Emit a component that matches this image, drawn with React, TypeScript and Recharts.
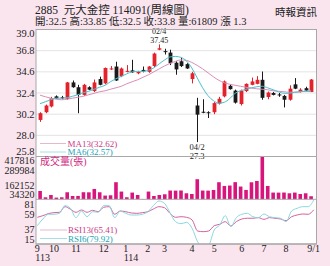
import React from "react";
import { ComposedChart, Bar, Line, XAxis, YAxis, CartesianGrid, ReferenceDot } from "recharts";

// weekly candles, week start dates (Sep 2024 - Sep 2025, LNY week closed)
const weeks = [
  "09/09", "09/16", "09/23", "09/30", "10/07", "10/14", "10/21", "10/28", "11/04", "11/11",
  "11/18", "11/25", "12/02", "12/09", "12/16", "12/23", "12/30", "01/06", "01/13", "01/20",
  "02/03", "02/10", "02/17", "02/24", "03/03", "03/10", "03/17", "03/24", "03/31", "04/07",
  "04/14", "04/21", "04/28", "05/05", "05/12", "05/19", "05/26", "06/02", "06/09", "06/16",
  "06/23", "06/30", "07/07", "07/14", "07/21", "07/28", "08/04", "08/11", "08/18", "08/25",
  "09/01",
];

const opens = [
  29.6, 30.4, 31.0, 32.05, 31.95, 31.8, 33.5, 33.0, 32.2, 33.0,
  32.6, 33.85, 33.4, 34.85, 35.15, 34.15, 34.65, 34.75, 34.45, 34.8,
  34.6, 35.2, 36.9, 36.75, 36.6, 35.55, 35.7, 35.4, 33.85, 31.1,
  30.45, 30.4, 30.4, 31.3, 32.05, 33.15, 32.65, 31.25, 32.6, 33.25,
  33.35, 33.77, 31.98, 32.4, 32.25, 32.1, 31.7, 33.3, 32.5, 32.9,
  32.5,
];
const highs = [
  30.4, 31.2, 32.0, 32.15, 32.1, 33.55, 33.7, 33.25, 33.35, 33.1,
  33.8, 34.1, 35.05, 35.2, 35.65, 35.05, 35.3, 35.85, 34.7, 35.15,
  35.2, 36.6, 37.45, 37.0, 36.9, 35.7, 36.05, 35.5, 34.6, 31.9,
  31.75, 30.5, 31.45, 32.0, 33.7, 33.3, 32.75, 32.75, 33.4, 34.0,
  34.15, 34.63, 32.55, 32.5, 32.4, 32.2, 33.2, 33.95, 32.9, 33.05,
  33.85,
];
const lows = [
  29.4, 30.3, 30.9, 31.8, 31.75, 31.7, 32.95, 30.3, 32.1, 32.7,
  32.5, 33.2, 33.3, 34.8, 33.65, 34.05, 34.55, 34.5, 34.35, 34.55,
  34.5, 35.1, 36.85, 36.4, 35.3, 34.3, 35.1, 34.9, 33.4, 27.3,
  30.3, 29.8, 30.2, 31.2, 31.95, 32.75, 31.3, 31.1, 32.5, 33.2,
  33.3, 31.7, 31.75, 32.15, 32.0, 30.9, 31.6, 32.8, 32.45, 32.6,
  32.5,
];
const closes = [
  30.3, 31.1, 31.85, 31.85, 31.9, 33.5, 33.0, 32.2, 33.25, 32.75,
  33.5, 33.25, 35.0, 34.95, 33.7, 34.95, 34.7, 34.55, 34.6, 34.65,
  35.15, 36.5, 37.05, 36.7, 35.5, 34.85, 35.2, 34.95, 34.45, 30.15,
  30.4, 30.35, 31.35, 31.8, 33.6, 32.8, 31.4, 32.65, 33.35, 33.6,
  33.77, 31.9, 32.45, 32.2, 32.2, 31.7, 32.85, 32.85, 32.75, 32.65,
  33.8,
];
const volumes = [
  109000, 52300, 73000, 49600, 52300, 97300, 64000, 64500, 97800, 96900,
  127000, 97300, 67600, 70300, 187400, 103600, 52300, 94600, 73000, 37000,
  103600, 64000, 73000, 79300, 112600, 112000, 113200, 88300, 82000, 214400,
  112600, 111900, 118000, 187400, 154000, 157600, 187900, 148600, 118000, 186800,
  199000, 417816, 154000, 94600, 94200, 95000, 88300, 94600, 82000, 88300,
  61809,
];
const ma13 = [
  32.17, 32.01, 31.86, 31.75, 31.70, 31.75, 31.86, 31.96, 32.06, 32.22,
  32.37, 32.53, 32.63, 32.79, 32.94, 33.10, 33.36, 33.57, 33.77, 34.03,
  34.29, 34.60, 34.91, 35.22, 35.48, 35.69, 35.84, 35.79, 35.58, 35.27,
  34.91, 34.50, 34.08, 33.72, 33.46, 33.31, 33.20, 33.10, 33.00, 32.91,
  32.84, 32.79, 32.74, 32.63, 32.58, 32.53, 32.48, 32.48, 32.53, 32.58,
  32.62,
];
const ma6 = [
  31.29, 31.49, 31.70, 31.86, 31.86, 31.91, 32.06, 32.22, 32.43, 32.58,
  32.79, 33.00, 33.20, 33.57, 33.88, 34.13, 34.39, 34.60, 34.65, 34.65,
  34.76, 35.01, 35.43, 35.84, 36.15, 36.20, 36.10, 35.74, 35.01, 33.98,
  32.94, 32.12, 31.60, 31.34, 31.44, 31.81, 32.37, 32.63, 32.79, 32.94,
  33.05, 33.10, 32.94, 32.74, 32.53, 32.37, 32.37, 32.48, 32.53, 32.58,
  32.57,
];
const rsi13 = [
  54.4, 56.8, 59.8, 61.3, 61.8, 70.1, 66.3, 61.8, 65.2, 61.8,
  64.7, 62.7, 69.2, 70.1, 58.9, 63.7, 62.7, 60.8, 60.3, 61.3,
  62.7, 66.7, 70.1, 68.6, 60.3, 54.4, 55.3, 54.4, 50.5, 34.2,
  33.2, 34.2, 42.0, 44.1, 48.0, 41.6, 48.0, 51.9, 53.0, 53.0,
  53.9, 51.4, 53.9, 53.0, 51.9, 49.4, 55.3, 57.8, 59.3, 58.9,
  65.41,
];
const rsi6 = [
  42.0, 51.9, 58.9, 58.9, 60.3, 71.6, 67.7, 53.9, 63.7, 55.3,
  62.7, 61.8, 71.6, 71.6, 53.9, 63.7, 60.3, 57.8, 57.8, 58.9,
  62.7, 71.6, 78.5, 75.1, 61.3, 48.0, 45.0, 47.0, 38.2, 18.4,
  11.0, 13.5, 35.7, 43.0, 56.8, 40.6, 53.9, 58.9, 60.3, 55.3,
  53.9, 59.3, 55.3, 53.9, 53.0, 48.0, 63.7, 67.7, 70.1, 70.1,
  79.92,
];

const priceTicks = [25.8, 28.0, 30.2, 32.4, 34.6, 36.8, 39.0];
const volTicks = [34320, 162152, 289984, 417816];
const rsiTicks = [15, 37, 59, 81];
const monthTicks = ["09/09", "09/30", "10/28", "12/02", "12/30", "02/03", "02/24", "03/31", "04/28", "06/02", "06/30", "07/28", "09/01"];
const monthLabels = ["9", "10", "11", "12", "1", "2", "3", "4", "5", "6", "7", "8", "9/1"];
const yearLabels = ["113", "", "", "", "114", "", "", "", "", "", "", "", ""];

const HIGH_WEEK = "02/17";
const LOW_WEEK = "04/07";

const SERIF = "'Liberation Serif', 'Noto Sans CJK TC', serif";
const RED = "#e4222b";
const BLACK = "#1a1a1a";
const MA13_C = "#da8db8";
const MA6_C = "#4dc0cb";
const VOL_C = "#d8147d";
const RSI13_C = "#d4619c";
const RSI6_C = "#8ad6e0";

const W = 330;
const H = 266;
const PLOT_L = 36;
const PLOT_R = 316.5;
const P_TOP = 29.5;
const P_BOT = 156.5;
const V_BOT = 199.3;
const R_BOT = 244;

const rows = weeks.map((wk, i) => ({
  wk,
  o: opens[i],
  h: highs[i],
  l: lows[i],
  c: closes[i],
  hl: [lows[i], highs[i]],
  vol: volumes[i],
  ma13: ma13[i],
  ma6: ma6[i],
  rsi13: rsi13[i],
  rsi6: rsi6[i],
}));

function Candle(props: any) {
  const { x, y, width, height, payload } = props;
  if (x == null || y == null || !payload) return null;
  const top = height < 0 ? y + height : y;
  const hh = Math.abs(height);
  const { o, h, l, c } = payload;
  const color = c > o ? RED : BLACK;
  const k = h - l > 0 ? hh / (h - l) : 0;
  const bodyTop = top + (h - Math.max(o, c)) * k;
  const bodyH = Math.max(Math.abs(o - c) * k, 1);
  const cx = Math.round(x + width / 2) + 0.5;
  return (
    <g>
      <line x1={cx} x2={cx} y1={top} y2={top + hh} stroke={color} strokeWidth={1} />
      <rect x={cx - width / 2} y={bodyTop} width={width} height={bodyH} fill={color} />
    </g>
  );
}

const yTick = (top: number, bottom: number, fmt: (v: number) => string, size = 10.5, padT = 4, padB = 5.5) => (props: any) => {
  const { y, payload } = props;
  const yy = Math.min(Math.max(y, top + padT), bottom - padB);
  return (
    <text x={34.5} y={yy} textAnchor="end" dominantBaseline="central" fontSize={size} fontFamily={SERIF} fill="#222">
      {fmt(payload.value)}
    </text>
  );
};

function MonthTick(props: any) {
  const { x, payload } = props;
  const i = monthTicks.indexOf(payload.value);
  if (i < 0) return null;
  return (
    <g fontFamily={SERIF} fontSize={10} fill="#222">
      <text x={x} y={248} textAnchor="middle" dominantBaseline="central">{monthLabels[i]}</text>
      {yearLabels[i] ? (
        <text x={x - 2} y={257.8} textAnchor="start" dominantBaseline="central">{yearLabels[i]}</text>
      ) : null}
    </g>
  );
}

function HighLabel(props: any) {
  const vb = props.viewBox || {};
  const cx = vb.x + (vb.width || 0) / 2;
  const cy = vb.y + (vb.height || 0) / 2;
  return (
    <g fontFamily={SERIF} fontSize={8} fill="#222" textAnchor="middle">
      <text x={cx} y={cy - 12.5} dominantBaseline="central">02/4</text>
      <text x={cx} y={cy - 3.7} dominantBaseline="central">{highs[weeks.indexOf(HIGH_WEEK)]}</text>
    </g>
  );
}

function LowLabel(props: any) {
  const vb = props.viewBox || {};
  const cx = vb.x + (vb.width || 0) / 2;
  const cy = vb.y + (vb.height || 0) / 2;
  return (
    <g fontFamily={SERIF} fontSize={8.5} fill="#222" textAnchor="middle">
      <text x={cx} y={cy + 4.5} dominantBaseline="central">04/2</text>
      <text x={cx} y={cy + 13.5} dominantBaseline="central">{lows[weeks.indexOf(LOW_WEEK)]}</text>
    </g>
  );
}

const layer: React.CSSProperties = { position: "absolute", left: 0, top: 0 };
const xPad = { left: 1.3, right: 2.8 };
const right = W - PLOT_R;

export default function App() {
  return (
    <div style={{ position: "absolute", left: 0, top: 0, width: W, height: H, background: "#fae5ef", overflow: "hidden" }}>
      <svg width={W} height={H} style={layer}>
        <rect x={PLOT_L} y={P_TOP} width={PLOT_R - PLOT_L} height={R_BOT - P_TOP} fill="#fff" />
      </svg>

      {/* price panel */}
      <div style={layer}>
        <ComposedChart width={W} height={H} data={rows} margin={{ top: P_TOP, right, bottom: H - P_BOT, left: 0 }}>
          <CartesianGrid vertical={false} stroke="#e3e3e3" />
          <XAxis dataKey="wk" hide padding={xPad} />
          <YAxis
            width={PLOT_L}
            domain={[25.8, 39]}
            ticks={priceTicks}
            interval={0}
            axisLine={false}
            tickLine={false}
            tick={yTick(P_TOP, P_BOT, (v) => v.toFixed(1))}
          />
          <Bar dataKey="hl" barSize={3.8} shape={<Candle />} isAnimationActive={false} />
          <Line type="monotone" dataKey="ma13" stroke={MA13_C} strokeWidth={1} dot={false} isAnimationActive={false} />
          <Line type="monotone" dataKey="ma6" stroke={MA6_C} strokeWidth={1} dot={false} isAnimationActive={false} />
          <ReferenceDot x={HIGH_WEEK} y={highs[weeks.indexOf(HIGH_WEEK)]} r={0} fill="none" stroke="none" label={<HighLabel />} />
          <ReferenceDot x={LOW_WEEK} y={lows[weeks.indexOf(LOW_WEEK)]} r={0} fill="none" stroke="none" label={<LowLabel />} />
        </ComposedChart>
      </div>

      {/* volume panel */}
      <div style={layer}>
        <ComposedChart width={W} height={H} data={rows} margin={{ top: P_BOT, right, bottom: H - V_BOT, left: 0 }}>
          <XAxis dataKey="wk" hide padding={xPad} />
          <YAxis
            width={PLOT_L}
            domain={[34320, 417816]}
            ticks={volTicks}
            interval={0}
            axisLine={false}
            tickLine={false}
            tick={yTick(P_BOT, V_BOT, (v) => String(v), 10, 4, 5.3)}
          />
          <Bar dataKey="vol" barSize={3.6} fill={VOL_C} isAnimationActive={false} />
        </ComposedChart>
      </div>

      {/* RSI panel */}
      <div style={layer}>
        <ComposedChart width={W} height={H} data={rows} margin={{ top: V_BOT, right, bottom: 0, left: 0 }}>
          <XAxis
            dataKey="wk"
            height={H - R_BOT}
            padding={xPad}
            ticks={monthTicks}
            interval={0}
            axisLine={{ stroke: "#999" }}
            tickLine={false}
            tick={<MonthTick />}
          />
          <YAxis
            width={PLOT_L}
            domain={[15, 81]}
            allowDataOverflow
            ticks={rsiTicks}
            interval={0}
            axisLine={false}
            tickLine={false}
            tick={yTick(V_BOT, R_BOT, (v) => String(v), 10, 5, 5)}
          />
          <Line type="monotone" dataKey="rsi13" stroke={RSI13_C} strokeWidth={1} dot={false} isAnimationActive={false} />
          <Line type="monotone" dataKey="rsi6" stroke={RSI6_C} strokeWidth={1} dot={false} isAnimationActive={false} />
        </ComposedChart>
      </div>

      <svg width={W} height={H} style={{ ...layer, pointerEvents: "none" }} fontFamily={SERIF}>
        <rect x={PLOT_L} y={P_TOP} width={PLOT_R - PLOT_L} height={R_BOT - P_TOP} fill="none" stroke="#a8a8a8" strokeWidth={1} />
        <line x1={PLOT_L} x2={PLOT_R} y1={P_BOT} y2={P_BOT} stroke="#a8a8a8" />
        <line x1={PLOT_L} x2={PLOT_R} y1={V_BOT} y2={V_BOT} stroke="#a8a8a8" />

        <text x={35} y={13.5} fontSize={11.5} fill="#222" style={{ whiteSpace: "pre" }}>2885  元大金控 114091(周線圖)</text>
        <text x={35} y={25} fontSize={10.5} fill="#222" style={{ whiteSpace: "pre" }}>開:32.5 高:33.85 低:32.5 收:33.8 量:61809 漲 1.3</text>
        <text x={317} y={16} fontSize={10.5} fill="#222" textAnchor="end">時報資訊</text>

        <line x1={40} x2={66} y1={143.5} y2={143.5} stroke="#e4b8cf" />
        <text x={67.5} y={143.5} fontSize={9} fill="#cc3a86" dominantBaseline="central">MA13(32.62)</text>
        <line x1={40} x2={66} y1={152} y2={152} stroke="#a6dfe5" />
        <text x={67.5} y={152} fontSize={9} fill="#1ba4b5" dominantBaseline="central">MA6(32.57)</text>

        <text x={40} y={161.5} fontSize={10} fill="#cf2a80" dominantBaseline="central">成交量(張)</text>

        <line x1={40} x2={67} y1={230} y2={230} stroke="#e4b8cf" />
        <text x={68} y={230} fontSize={9} fill="#cc3a86" dominantBaseline="central">RSI13(65.41)</text>
        <line x1={40} x2={67} y1={238.5} y2={238.5} stroke="#a6dfe5" />
        <text x={68} y={238.5} fontSize={9} fill="#1ba4b5" dominantBaseline="central">RSI6(79.92)</text>
      </svg>
    </div>
  );
}
